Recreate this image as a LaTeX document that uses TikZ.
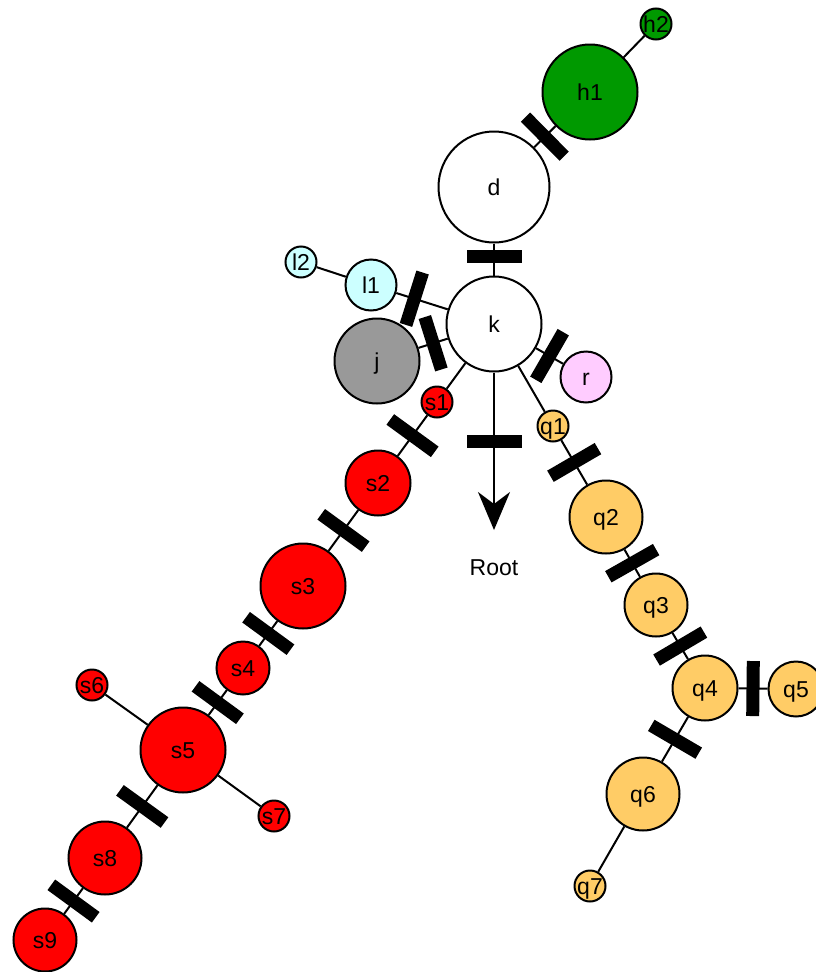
\documentclass[tikz,border=0pt]{standalone}
\usepackage{fontspec}
\setmainfont{Liberation Sans}
\usetikzlibrary{arrows.meta}
\definecolor{hgreen}{HTML}{009900}
\definecolor{lcyan}{HTML}{CCFFFF}
\definecolor{jgray}{HTML}{999999}
\definecolor{rpink}{HTML}{FFCCFF}
\definecolor{qorange}{HTML}{FFCC66}
\definecolor{sred}{HTML}{FF0000}

\begin{document}
\begin{tikzpicture}[x=1pt,y=-1pt,
		vtx/.style={circle,draw,line width=2pt,inner sep=0pt,text height=16pt,text depth=0pt,font=\fontsize{23}{27}\selectfont},
		lbl/.style={inner sep=0pt,text height=16pt,text depth=0pt,font=\fontsize{23}{27}\selectfont},
		link/.style={line width=2pt},
		cutbar/.style={sloped,rectangle,fill=black,inner sep=0pt,minimum width=13pt,minimum height=55pt}]
	\useasboundingbox (0,0) rectangle (816,972);

	% upper part
	\node[vtx,fill=hgreen,minimum size=31pt] (h2) at (656,24) {h2};
	\node[vtx,fill=hgreen,minimum size=95pt] (h1) at (590,92) {h1};
	\node[vtx,fill=white,minimum size=111pt] (d) at (494,187) {d};
	\node[vtx,fill=white,minimum size=95pt] (k) at (494,324) {k};
	\node[vtx,fill=lcyan,minimum size=51pt] (l1) at (371,285) {l1};
	\node[vtx,fill=lcyan,minimum size=31pt] (l2) at (301,262) {l2};
	\node[vtx,fill=jgray,minimum size=85pt] (j) at (377,361) {j};
	\node[vtx,fill=rpink,minimum size=51pt] (r) at (586,377) {r};

	% s chain
	\node[vtx,fill=sred,minimum size=31pt] (s1) at (437,402) {s1};
	\node[vtx,fill=sred,minimum size=65pt] (s2) at (378,483) {s2};
	\node[vtx,fill=sred,minimum size=85pt] (s3) at (303,586) {s3};
	\node[vtx,fill=sred,minimum size=53pt] (s4) at (243,668) {s4};
	\node[vtx,fill=sred,minimum size=85pt] (s5) at (183,750) {s5};
	\node[vtx,fill=sred,minimum size=31pt] (s6) at (92,685) {s6};
	\node[vtx,fill=sred,minimum size=31pt] (s7) at (274,816) {s7};
	\node[vtx,fill=sred,minimum size=73pt] (s8) at (105,858) {s8};
	\node[vtx,fill=sred,minimum size=63pt] (s9) at (45,940) {s9};

	% q chain
	\node[vtx,fill=qorange,minimum size=31pt] (q1) at (553,426) {q1};
	\node[vtx,fill=qorange,minimum size=73pt] (q2) at (606,517) {q2};
	\node[vtx,fill=qorange,minimum size=63pt] (q3) at (656,605) {q3};
	\node[vtx,fill=qorange,minimum size=65pt] (q4) at (705,688) {q4};
	\node[vtx,fill=qorange,minimum size=55pt] (q5) at (796,689) {q5};
	\node[vtx,fill=qorange,minimum size=73pt] (q6) at (643,794) {q6};
	\node[vtx,fill=qorange,minimum size=31pt] (q7) at (590,886) {q7};

	% root
	\coordinate (tip) at (494,530);
	\node[lbl] (root) at (494,567) {Root};

	\draw[link] (h2) -- (h1);
	\draw[link] (h1) -- node[cutbar]{} (d);
	\draw[link] (d) -- node[cutbar,pos=0.4]{} (k);
	\draw[link] (l2) -- (l1);
	\draw[link] (l1) -- node[cutbar,pos=0.35]{} (k);
	\draw[link] (j) -- node[cutbar]{} (k);
	\draw[link] (k) -- node[cutbar]{} (r);
	\draw[link,-{Stealth[length=38pt,width=32pt,inset=12pt]}] (k) -- node[cutbar,pos=0.44]{} (tip);

	\draw[link] (k) -- (s1);
	\draw[link] (s1) -- node[cutbar]{} (s2);
	\draw[link] (s2) -- node[cutbar]{} (s3);
	\draw[link] (s3) -- node[cutbar]{} (s4);
	\draw[link] (s4) -- node[cutbar]{} (s5);
	\draw[link] (s6) -- (s5);
	\draw[link] (s5) -- (s7);
	\draw[link] (s5) -- node[cutbar]{} (s8);
	\draw[link] (s8) -- node[cutbar]{} (s9);

	\draw[link] (k) -- (q1);
	\draw[link] (q1) -- node[cutbar]{} (q2);
	\draw[link] (q2) -- node[cutbar]{} (q3);
	\draw[link] (q3) -- node[cutbar]{} (q4);
	\draw[link] (q4) -- node[cutbar]{} (q5);
	\draw[link] (q4) -- node[cutbar]{} (q6);
	\draw[link] (q6) -- (q7);
\end{tikzpicture}
\end{document}
